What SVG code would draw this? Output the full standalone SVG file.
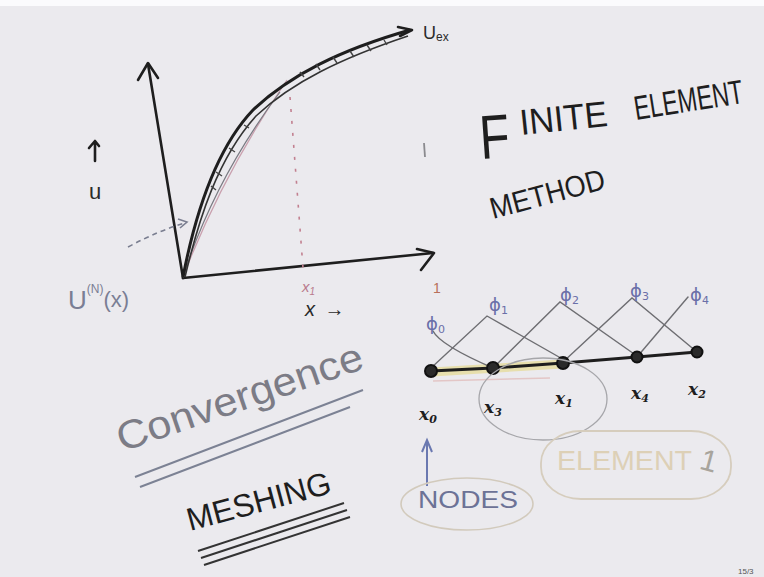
<svg xmlns="http://www.w3.org/2000/svg" width="764" height="577" viewBox="0 0 764 577">
<style>
.ink{fill:none;stroke:#1e1e1e;stroke-width:2.6;stroke-linecap:round;stroke-linejoin:round}
.thin{fill:none;stroke:#6e6e72;stroke-width:1.4;stroke-linecap:round}
.hw{font-family:"Liberation Sans","DejaVu Sans",sans-serif}
.blk{fill:#1e1e1e}
.node{fill:#2a2a2a;stroke:#111;stroke-width:2}
.xl{font-family:"DejaVu Serif","Liberation Serif",serif;font-style:italic;font-weight:bold;font-size:17px;fill:#1e1e1e}
.phi{font-family:"DejaVu Sans",sans-serif;font-size:18px;fill:#6a6fa8}
</style>
<rect x="0" y="0" width="764" height="577" fill="#ebeaee"/>
<rect x="0" y="0" width="764" height="6" fill="#fbfbfd"/>

<!-- left plot -->
<g id="plot">
  <path class="ink" d="M183,278 L148,64"/>
  <path class="ink" d="M138,80 L148,63 L158,78"/>
  <path class="ink" d="M183,278 L433,253"/>
  <path class="ink" d="M417,249 L434,253 L421,270"/>
  <path fill="none" stroke="#c9a0ae" stroke-width="1.3" d="M183,277 Q222,175 287,80"/>
  <path fill="none" stroke="#7a7a82" stroke-width="1.2" d="M183,277 Q214,180 280,92"/>
  <path fill="none" stroke="#333" stroke-width="1.6" d="M185,277 C199,218 218,158 256,116 C292,82 342,58 408,36"/>
  <path fill="none" stroke="#1e1e1e" stroke-width="3" d="M183,277 C195,215 215,150 253,110 C290,75 340,50 410,30"/>
  <path fill="none" stroke="#444" stroke-width="1.4" d="M300,72 L304,77 M316,64 L320,70 M333,57 L337,63 M350,51 L354,57 M367,45 L371,51 M384,40 L387,45 M211,186 L216,190 M216,172 L222,176 M244,125 L249,128 M229,148 L235,152"/>
  <path class="ink" stroke-width="2" d="M398,27 L412,30 L400,36"/>
  <path fill="none" stroke="#c28090" stroke-width="1.6" stroke-dasharray="3,9" d="M290,97 L303,268"/>
  <path fill="none" stroke="#7a7e90" stroke-width="1.6" stroke-dasharray="5,4" d="M128,247 Q160,230 185,223"/>
  <path fill="none" stroke="#7a7e90" stroke-width="1.6" d="M178,219 L187,222 L180,228"/>
  <path fill="none" stroke="#8a8a8e" stroke-width="1.8" d="M424,143 L425,157"/>
  <text class="hw" x="423" y="39" font-size="18" fill="#2a2a2a">U<tspan font-size="12" dy="2">ex</tspan></text>
  <path class="ink" stroke-width="2.4" d="M95,161 L95,142 M89,148 L95,141 L99,146"/>
  <text class="hw" x="89" y="199" font-size="22" fill="#2a2a2a">u</text>
  <text class="hw" x="68" y="309" font-size="26" fill="#7a7e94">U<tspan font-size="12" dy="-16">(N)</tspan><tspan font-size="22" dy="14">(x)</tspan></text>
  <text class="hw" x="302" y="292" font-size="15" fill="#b97a8c" font-style="italic">x<tspan font-size="10" dy="3">1</tspan></text>
  <text class="hw" x="305" y="316" font-size="20" fill="#2a2a2a" font-style="italic">x <tspan dx="4">→</tspan></text>
  <text class="hw" x="433" y="293" font-size="14" fill="#b8705a">1</text>
</g>

<!-- title -->
<g id="title">
  <text class="hw blk" x="481" y="159" font-size="62" transform="rotate(-4 481 159)" textLength="30" lengthAdjust="spacingAndGlyphs">F</text>
  <text class="hw blk" x="521" y="135" font-size="36" transform="rotate(-6 521 135)" textLength="88" lengthAdjust="spacingAndGlyphs">INITE</text>
  <text class="hw blk" x="636" y="120" font-size="26" transform="rotate(-9 636 120) translate(636 120) scale(1 1.3) translate(-636 -120)" textLength="110" lengthAdjust="spacingAndGlyphs">ELEMENT</text>
  <text class="hw blk" x="493" y="219" font-size="30" transform="rotate(-15 493 219)" textLength="118" lengthAdjust="spacingAndGlyphs">METHOD</text>
</g>

<!-- convergence / meshing -->
<g id="convergence">
  <text class="hw" x="122" y="452" font-size="40" fill="#7c7c86" transform="rotate(-19 122 452)" textLength="258" lengthAdjust="spacingAndGlyphs">Convergence</text>
  <path fill="none" stroke="#7c8294" stroke-width="2" d="M135,477 L363,390 M140,487 L350,407"/>
</g>
<g id="meshing">
  <text class="hw blk" x="190" y="531" font-size="32" transform="rotate(-15 190 531)" textLength="148" lengthAdjust="spacingAndGlyphs">MESHING</text>
  <path fill="none" stroke="#333" stroke-width="2" d="M198,551 L344,503 M201,558 L347,510 M204,565 L350,517"/>
</g>

<!-- mesh -->
<g id="connectors">
  <path fill="none" stroke="#e6dc9c" stroke-width="9" opacity="0.8" d="M432,372 L563,364"/>
  <path fill="none" stroke="#e3c6c6" stroke-width="1.5" d="M433,381 L550,378"/>
  <path class="thin" d="M433,331 Q440,345 493,368"/>
  <path class="thin" d="M431,368 L487,316 L566,361"/>
  <path class="thin" d="M493,368 L560,302 L637,356"/>
  <path class="thin" d="M563,362 L632,298 L697,352"/>
  <path class="thin" d="M637,357 L688,297"/>
  <path fill="none" stroke="#1e1e1e" stroke-width="3" d="M431,371 L493,368 L563,363 L637,357 L697,352"/>
  <path fill="none" stroke="#6a78b0" stroke-width="2" d="M427,486 L427,442 M422,452 L427,440 L432,452"/>
</g>
<g id="n0"><circle class="node" cx="431" cy="371" r="6" fill="#555"/></g>
<g id="n3"><circle class="node" cx="493" cy="368" r="6"/></g>
<g id="n1"><circle class="node" cx="563" cy="363" r="6"/></g>
<g id="n4"><circle class="node" cx="637" cy="357" r="5.5"/></g>
<g id="n2"><circle class="node" cx="697" cy="352" r="5.5"/></g>
<g id="labels">
  <text class="phi" x="426" y="330">ϕ<tspan font-size="11" dy="3">0</tspan></text>
  <text class="phi" x="489" y="311">ϕ<tspan font-size="11" dy="3">1</tspan></text>
  <text class="phi" x="560" y="301">ϕ<tspan font-size="11" dy="3">2</tspan></text>
  <text class="phi" x="630" y="297">ϕ<tspan font-size="11" dy="3">3</tspan></text>
  <text class="phi" x="690" y="301">ϕ<tspan font-size="11" dy="3">4</tspan></text>
  <text class="xl" x="419" y="420">x<tspan font-size="11" dy="3">0</tspan></text>
  <text class="xl" x="484" y="413">x<tspan font-size="11" dy="3">3</tspan></text>
  <text class="xl" x="555" y="404">x<tspan font-size="11" dy="3">1</tspan></text>
  <text class="xl" x="631" y="399">x<tspan font-size="11" dy="3">4</tspan></text>
  <text class="xl" x="688" y="395">x<tspan font-size="11" dy="3">2</tspan></text>
</g>
<g id="element">
  <ellipse cx="543" cy="399" rx="64" ry="41" fill="none" stroke="#a6a6aa" stroke-width="1.3"/>
  <rect x="541" y="431" width="190" height="68" rx="40" ry="32" fill="none" stroke="#d6cdbd" stroke-width="1.8"/>
  <text class="hw" x="557" y="470" font-size="28" fill="#ddd0b6" textLength="135" lengthAdjust="spacingAndGlyphs">ELEMENT</text>
  <text class="hw" x="702" y="470" font-size="30" fill="#a8a49c" transform="rotate(15 706 455)">1</text>
</g>
<g id="nodes">
  <ellipse cx="467" cy="504" rx="66" ry="26" fill="none" stroke="#d2cabc" stroke-width="1.6"/>
  <text class="hw" x="418" y="508" font-size="24" fill="#6c7296" textLength="100" lengthAdjust="spacingAndGlyphs">NODES</text>
</g>
<text class="hw" x="738" y="574" font-size="8" fill="#555">15/3</text>
</svg>
